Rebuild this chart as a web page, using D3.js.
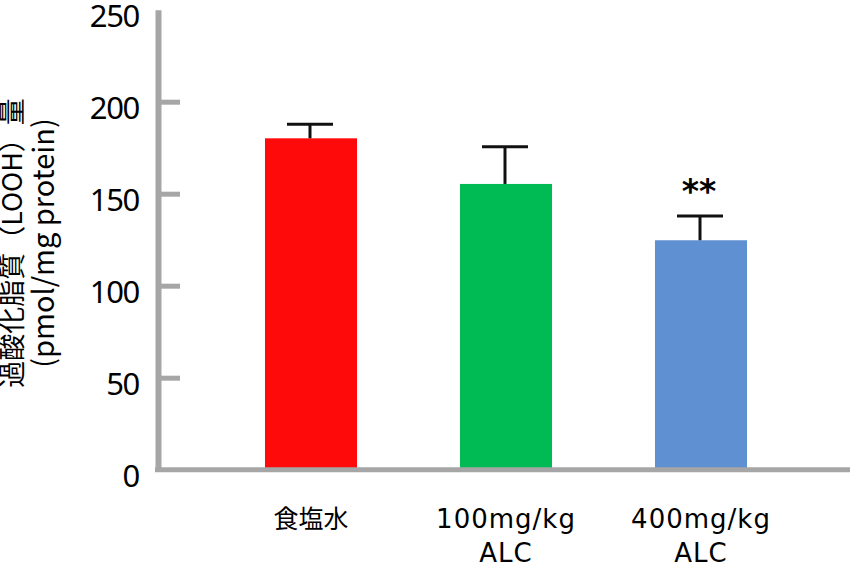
<!DOCTYPE html>
<html>
<head>
<meta charset="utf-8">
<script src="https://cdn.jsdelivr.net/npm/d3@7"></script>
<style>
  body { margin: 0; background: #fff; }
  text { font-family: "Noto Sans CJK JP", "Noto Sans", sans-serif; fill: #000; }
</style>
</head>
<body>
<script>
const width = 850;
const height = 566;

// Data
const groups = ["食塩水", "100mg/kg ALC", "400mg/kg ALC"];
const groupLines = [["食塩水"], ["100mg/kg", "ALC"], ["400mg/kg", "ALC"]];
const means = [180.1, 155.3, 124.7];
const errors = [7.7, 20.2, 13.2];
const marks = ["", "", "**"];
const barColors = ["#ff0a0a", "#00ba53", "#5f91d2"];
const yTicks = [0, 50, 100, 150, 200, 250];

const axisColor = "#a6a6a6";

const svg = d3.select("body").append("svg")
  .attr("width", width)
  .attr("height", height);

// Scales
const y = d3.scaleLinear().domain([0, 250]).range([469.7, 9.7]);
const x = d3.scaleBand()
  .domain(groups)
  .range([213.5, 798.5])
  .paddingInner(0.528)
  .paddingOuter(0.264);

const axisX = 158;

// Bars
svg.selectAll(".bar")
  .data(groups)
  .enter()
  .append("rect")
  .attr("class", "bar")
  .attr("x", d => x(d))
  .attr("y", (d, i) => y(means[i]))
  .attr("width", x.bandwidth())
  .attr("height", (d, i) => y(0) - y(means[i]))
  .attr("fill", (d, i) => barColors[i]);

// Error bars (upper only)
const capHalf = 23;
const err = svg.selectAll(".err")
  .data(groups)
  .enter()
  .append("g")
  .attr("class", "err")
  .attr("stroke", "#111")
  .attr("stroke-width", 3);

err.append("line")
  .attr("x1", d => x(d) + x.bandwidth() / 2 - 1)
  .attr("x2", d => x(d) + x.bandwidth() / 2 - 1)
  .attr("y1", (d, i) => y(means[i]))
  .attr("y2", (d, i) => y(means[i] + errors[i]));

err.append("line")
  .attr("x1", d => x(d) + x.bandwidth() / 2 - 1 - capHalf)
  .attr("x2", d => x(d) + x.bandwidth() / 2 - 1 + capHalf)
  .attr("y1", (d, i) => y(means[i] + errors[i]))
  .attr("y2", (d, i) => y(means[i] + errors[i]));

// Significance marks
svg.selectAll(".mark")
  .data(groups)
  .enter()
  .append("text")
  .attr("class", "mark")
  .attr("x", d => x(d) + x.bandwidth() / 2 - 2)
  .attr("y", (d, i) => y(means[i] + errors[i]) - 13)
  .attr("text-anchor", "middle")
  .style("font-family", "'DejaVu Sans', sans-serif")
  .style("font-size", "33px")
  .style("font-weight", "bold")
  .text((d, i) => marks[i]);

// Y axis
const yAxis = svg.append("g")
  .attr("transform", `translate(${axisX},0)`)
  .call(d3.axisLeft(y).tickValues(yTicks).tickSizeInner(-22).tickSizeOuter(0).tickPadding(19));

yAxis.select(".domain")
  .attr("stroke", axisColor)
  .attr("stroke-width", 6);

yAxis.selectAll(".tick line")
  .attr("stroke", axisColor)
  .attr("stroke-width", 5)
  .filter(d => d === 0 || d === 250)
  .remove();

yAxis.selectAll(".tick text")
  .attr("dy", null)
  .attr("y", 16.5)
  .style("font-family", "'Noto Sans', sans-serif")
  .style("font-size", "31px")
  .style("letter-spacing", "-1.3px")
  .attr("fill", "#000");

// X baseline
svg.append("line")
  .attr("x1", axisX - 3)
  .attr("x2", width)
  .attr("y1", y(0))
  .attr("y2", y(0))
  .attr("stroke", axisColor)
  .attr("stroke-width", 5);

// Category labels
const catLabels = svg.selectAll(".cat")
  .data(groups)
  .enter()
  .append("text")
  .attr("class", "cat")
  .attr("text-anchor", "middle")
  .attr("x", d => x(d) + x.bandwidth() / 2)
  .attr("y", 528);

catLabels.selectAll("tspan")
  .data((d, i) => groupLines[i])
  .enter()
  .append("tspan")
  .attr("x", function() { return this.parentNode.getAttribute("x"); })
  .attr("dy", (d, i) => i === 0 ? 0 : 34)
  .style("font-family", d => /[^\x00-\x7f]/.test(d) ? "'Noto Sans CJK JP', sans-serif" : "'DejaVu Sans', sans-serif")
  .style("font-size", d => /[^\x00-\x7f]/.test(d) ? "25px" : "26px")
  .style("letter-spacing", d => /[^\x00-\x7f]/.test(d) ? "0px" : "1px")
  .text(d => d);

// Y axis title
const titleY = 243;
svg.append("text")
  .attr("transform", `translate(22,${titleY}) rotate(-90)`)
  .attr("text-anchor", "middle")
  .style("font-size", "27px")
  .text("過酸化脂質（LOOH）量");

svg.append("text")
  .attr("transform", `translate(54,${titleY}) rotate(-90)`)
  .attr("text-anchor", "middle")
  .style("font-size", "29px")
  .text("(pmol/mg protein)");
</script>
</body>
</html>
